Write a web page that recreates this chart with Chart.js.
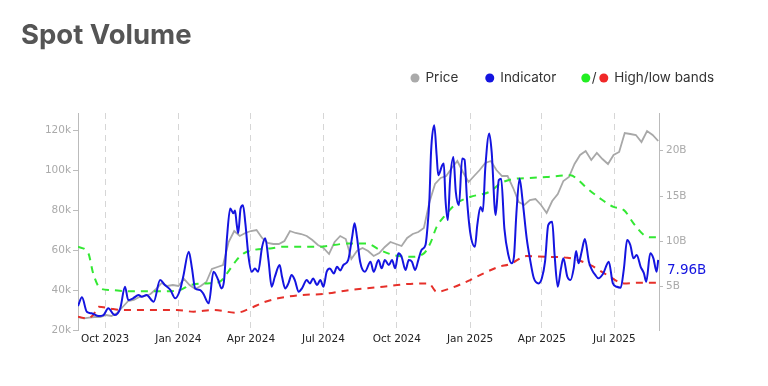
<!DOCTYPE html>
<html>
<head>
<meta charset="utf-8">
<script src="https://cdn.jsdelivr.net/npm/chart.js@4.4.1/dist/chart.umd.min.js"></script>
<style>
  html, body { margin: 0; padding: 0; background: #fff; }
  #wrap { width: 768px; height: 386px; }
</style>
</head>
<body>
<div id="wrap"><canvas id="volChart" width="768" height="386"></canvas></div>
<script>
// all x values are days since 2023-08-28
const startDate = "2023-08-28";
const endDay = 729;

const tickDates = ["2023-10-01", "2024-01-01", "2024-04-01", "2024-07-01", "2024-10-01", "2025-01-01", "2025-04-01", "2025-07-01"];
const tickLabels = ["Oct 2023", "Jan 2024", "Apr 2024", "Jul 2024", "Oct 2024", "Jan 2025", "Apr 2025", "Jul 2025"];
const priceTicks = [20, 40, 60, 80, 100, 120];
const volumeTicks = [5, 10, 15, 20];

// price (k USD), one value per week starting at startDate
const priceWeekly = [
    26.5, 25.8, 26.2, 26.5, 26.4, 27.5, 27.0, 28.5, 31.5, 34.5,
    35.0, 36.5, 37.0, 38.0, 40.5, 43.5, 42.0, 42.5, 42.0, 45.5,
    42.5, 40.5, 42.0, 44.0, 50.5, 51.5, 52.5, 64.0, 69.5, 67.0,
    68.5, 69.5, 70.0, 66.0, 63.5, 63.0, 63.0, 64.5, 69.5, 68.5,
    68.0, 67.0, 65.0, 62.5, 61.0, 58.0, 64.0, 67.0, 65.5, 55.5,
    59.5, 61.0, 59.5, 57.0, 58.5, 61.5, 64.0, 63.0, 62.0, 66.0,
    68.0, 69.0, 71.0, 84.0, 93.0, 96.0, 97.0, 101.0, 104.5, 99.0,
    94.0, 97.0, 100.0, 103.5, 104.5, 100.0, 97.0, 97.0, 91.0, 84.0,
    82.5, 85.0, 85.5, 82.5, 78.5, 84.5, 88.0, 94.5, 96.5, 103.0,
    107.5, 109.5, 105.0, 108.5, 105.5, 103.0, 107.5, 109.0, 118.5, 118.0,
    117.5, 114.0, 119.5, 117.5, 114.5
];

// spot volume indicator (B)
const indicatorDays = [
    0, 5, 11, 17, 26, 32, 38, 46, 53, 59, 63, 69, 76, 80, 86, 95, 103, 109, 116, 122,
    128, 132, 139, 143, 147, 153, 157, 164, 170, 176, 180, 183, 187, 191, 195, 197, 199, 201, 204, 207,
    210, 214, 218, 222, 226, 231, 235, 239, 243, 247, 253, 256, 260, 264, 268, 272, 277, 281, 287, 291,
    295, 300, 304, 308, 312, 316, 321, 325, 329, 333, 339, 344, 347, 350, 354, 360, 367, 371, 377, 381,
    385, 390, 394, 398, 402, 406, 411, 415, 419, 423, 427, 431, 436, 438, 441, 443, 447, 450, 452, 457,
    459, 461, 464, 467, 471, 474, 478, 482, 485, 488, 492, 498, 501, 505, 508, 511, 516, 519, 524, 528,
    531, 535, 540, 544, 547, 550, 554, 558, 563, 567, 572, 578, 582, 586, 590, 595, 598, 602, 606, 609,
    614, 618, 622, 625, 628, 632, 636, 641, 645, 649, 653, 659, 666, 671, 676, 681, 685, 689, 693, 697,
    701, 706, 710, 713, 718, 722, 726, 728
];
const indicatorValues = [
    2.87, 3.83, 2.24, 2.07, 1.77, 1.88, 2.62, 1.88, 2.62, 5.0, 3.53, 3.72, 4.08, 3.9, 4.08, 3.35, 5.74, 5.19, 4.64, 3.72,
    4.64, 6.1, 8.86, 7.03, 4.82, 4.64, 4.27, 3.17, 6.65, 5.74, 4.82, 5.5, 10.5, 13.64, 13.1, 13.4, 12.0, 10.9, 13.64, 14.0,
    12.0, 8.3, 6.65, 7.0, 6.65, 9.4, 10.34, 7.94, 5.0, 6.1, 7.39, 6.1, 4.82, 5.37, 6.29, 5.74, 4.45, 4.82, 5.74, 5.37,
    5.9, 5.2, 5.74, 5.0, 6.65, 7.0, 6.47, 7.2, 6.8, 7.4, 7.94, 10.5, 12.0, 10.5, 7.76, 6.65, 7.76, 6.65, 7.94, 7.03,
    7.94, 7.39, 7.94, 7.03, 8.68, 8.3, 6.84, 7.94, 7.76, 6.84, 7.94, 9.05, 9.6, 11.06, 14.75, 19.9, 22.8, 19.5, 17.3, 18.4,
    18.6, 14.75, 12.35, 16.95, 19.3, 15.5, 14.0, 19.15, 19.0, 14.75, 11.06, 9.41, 11.8, 13.8, 13.3, 18.05, 21.9, 19.9, 12.9, 16.76,
    16.9, 11.4, 8.5, 7.58, 8.3, 13.0, 16.95, 14.37, 10.34, 8.13, 5.93, 5.37, 5.93, 7.76, 11.8, 12.17, 8.5, 5.0, 7.03, 8.13,
    6.1, 5.74, 7.03, 8.94, 7.58, 8.9, 10.26, 7.76, 6.84, 6.3, 5.93, 6.47, 7.76, 5.4, 5.0, 4.9, 7.03, 10.15, 9.6, 8.13,
    8.5, 7.2, 6.5, 5.55, 8.68, 8.13, 6.65, 7.96
];

// high band (B)
const highDays = [0, 13, 19, 28, 40, 65, 107, 128, 141, 162, 178, 187, 199, 208, 220, 241, 258, 300, 341, 362,
    379, 396, 417, 434, 442, 450, 459, 475, 492, 517, 530, 546, 567, 588, 618, 626, 639, 655, 672, 685,
    697, 710, 718, 727];
const highValues = [9.41, 8.68, 6.48, 4.82, 4.64, 4.5, 4.5, 4.64, 5.19, 5.37, 5.55, 6.48, 7.94, 8.68, 9.05, 9.23, 9.41, 9.41, 9.78, 9.78,
    9.05, 8.5, 8.3, 8.68, 9.78, 11.6, 12.7, 14.2, 14.9, 15.5, 16.4, 16.87, 17.0, 17.1, 17.3, 16.9, 15.85, 14.75, 13.8, 13.45,
    12.0, 10.7, 10.45, 10.45];

// low band (B)
const lowDays = [0, 11, 19, 26, 40, 57, 124, 145, 170, 199, 216, 233, 251, 279, 308, 341, 383, 413, 440, 450,
    467, 492, 509, 528, 542, 563, 588, 614, 643, 664, 685, 706, 727];
const lowValues = [1.7, 1.5, 1.88, 2.8, 2.6, 2.43, 2.43, 2.25, 2.43, 2.13, 2.62, 3.28, 3.72, 4.08, 4.2, 4.64, 5.0, 5.3, 5.37, 4.45,
    4.82, 5.74, 6.48, 7.2, 7.5, 8.38, 8.3, 8.2, 7.39, 6.29, 5.37, 5.45, 5.45];

const dayMs = 24 * 3600 * 1000;
const startMs = Date.parse(startDate + "T00:00:00Z");
const toDay = (d) => Math.round((Date.parse(d + "T00:00:00Z") - startMs) / dayMs);
const tickDays = tickDates.map(toDay);

const zip = (xs, ys) => xs.map((x, i) => ({ x: x, y: ys[i] }));

const fontTick = "'DejaVu Sans', Verdana, sans-serif";
const fontUi = "Inter, 'Noto Sans', sans-serif";
const blue = "#1414e0";

const overlay = {
    id: "overlay",
    afterDraw(chart) {
        const ctx = chart.ctx;
        ctx.save();

        // title
        ctx.fillStyle = "#555";
        ctx.font = "700 27.5px " + fontUi;
        ctx.textBaseline = "alphabetic";
        ctx.fillText("Spot Volume", 21, 43.5);

        // legend
        ctx.font = "13.5px " + fontUi;
        ctx.textBaseline = "middle";
        const ly = 78;
        const dot = (x, color) => {
            ctx.fillStyle = color;
            ctx.beginPath();
            ctx.arc(x, ly, 4.5, 0, Math.PI * 2);
            ctx.fill();
        };
        let x = 410.5;
        dot(x + 4.5, "#aaaaaa");
        ctx.fillStyle = "#333";
        ctx.fillText("Price", x + 15, ly);
        x += 15 + ctx.measureText("Price").width + 27;
        dot(x + 4.5, blue);
        ctx.fillStyle = "#333";
        ctx.fillText("Indicator", x + 15, ly);
        x += 15 + ctx.measureText("Indicator").width + 25;
        dot(x + 4.5, "#22ee22");
        ctx.fillStyle = "#333";
        ctx.fillText("/", x + 10.5, ly);
        dot(x + 22.5, "#f02828");
        ctx.fillStyle = "#333";
        ctx.fillText("High/low bands", x + 33, ly);

        // last indicator value
        const last = indicatorValues[indicatorValues.length - 1];
        const yR = chart.scales.yRight;
        ctx.fillStyle = blue;
        ctx.font = "13.5px " + fontTick;
        ctx.fillText(last.toFixed(2) + "B", chart.chartArea.right + 8, yR.getPixelForValue(last) + 10.5);

        ctx.restore();
    }
};

new Chart(document.getElementById("volChart"), {
    type: "line",
    data: {
        datasets: [
            {
                label: "Indicator",
                data: zip(indicatorDays, indicatorValues),
                yAxisID: "yRight",
                borderColor: blue,
                borderWidth: 2,
                pointRadius: 0,
                cubicInterpolationMode: "monotone"
            },
            {
                label: "High band",
                data: zip(highDays, highValues),
                yAxisID: "yRight",
                borderColor: "#33e833",
                borderWidth: 2,
                borderDash: [7, 6],
                pointRadius: 0,
                cubicInterpolationMode: "monotone"
            },
            {
                label: "Low band",
                data: zip(lowDays, lowValues),
                yAxisID: "yRight",
                borderColor: "#e6302a",
                borderWidth: 2,
                borderDash: [7, 6],
                pointRadius: 0,
                cubicInterpolationMode: "monotone"
            },
            {
                label: "Price",
                data: priceWeekly.map((v, i) => ({ x: i * 7, y: v })),
                yAxisID: "yLeft",
                borderColor: "#a8a8a8",
                borderWidth: 1.8,
                pointRadius: 0,
                tension: 0
            }
        ]
    },
    options: {
        responsive: false,
        animation: false,
        devicePixelRatio: 1,
        layout: { padding: { top: 113, left: 0, right: 0, bottom: 0 } },
        plugins: {
            legend: { display: false },
            tooltip: { enabled: false }
        },
        scales: {
            x: {
                type: "linear",
                min: 0,
                max: endDay,
                afterBuildTicks: (scale) => { scale.ticks = tickDays.map(v => ({ value: v })); },
                afterFit: (scale) => { scale.height = 56; },
                ticks: {
                    autoSkip: false,
                    maxRotation: 0,
                    padding: 3,
                    color: "#222",
                    font: { family: fontTick, size: 10.5 },
                    callback: (v) => tickLabels[tickDays.indexOf(v)]
                },
                grid: { color: "#d6d6d6", lineWidth: 1, drawTicks: false },
                border: { display: false, dash: [6, 5] }
            },
            yLeft: {
                position: "left",
                min: 20,
                max: 128.5,
                afterBuildTicks: (scale) => { scale.ticks = priceTicks.map(v => ({ value: v })); },
                afterFit: (scale) => { scale.width = 78; },
                ticks: {
                    padding: 2,
                    color: "#aaa",
                    font: { family: fontTick, size: 10.5 },
                    callback: (v) => v + "k"
                },
                grid: { drawOnChartArea: false, tickLength: 5, color: "#bbb" },
                border: { color: "#bbb" }
            },
            yRight: {
                position: "right",
                min: 0.23,
                max: 24.16,
                afterBuildTicks: (scale) => { scale.ticks = volumeTicks.map(v => ({ value: v })); },
                afterFit: (scale) => { scale.width = 109; },
                ticks: {
                    padding: 3,
                    color: "#aaa",
                    font: { family: fontTick, size: 10.5 },
                    callback: (v) => v + "B"
                },
                grid: { drawOnChartArea: false, tickLength: 4, color: "#bbb" },
                border: { color: "#bbb" }
            }
        }
    },
    plugins: [overlay]
});
</script>
</body>
</html>
